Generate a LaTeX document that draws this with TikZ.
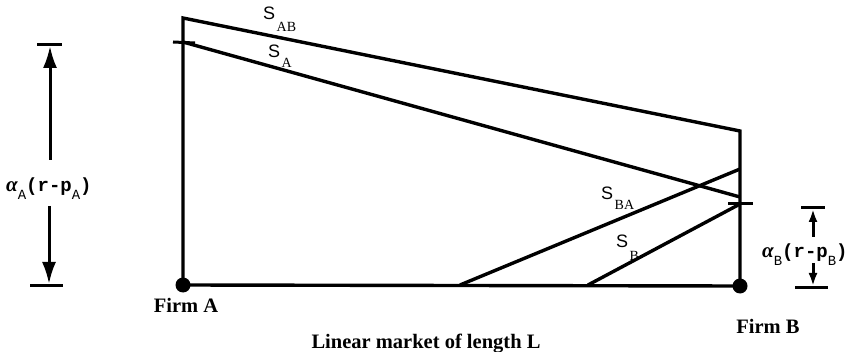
\documentclass[tikz,border=0pt]{standalone}
\usepackage{fontspec}
\setmainfont{Liberation Serif}
\newfontfamily\sansS{Liberation Sans}
\newfontfamily\monoF{Liberation Mono}
\usetikzlibrary{arrows.meta}
\newcommand{\Slab}[2]{{\sansS\fontsize{18}{18}\selectfont S}\hspace{1.5pt}\raisebox{-#2pt}{\fontsize{14}{14}\selectfont #1}}
\newcommand{\dimlab}[1]{{\fontsize{21}{21}\selectfont\bfseries\itshape α}\raisebox{-8pt}{\monoF\fontsize{14}{14}\selectfont #1}{\monoF\bfseries\fontsize{19}{19}\selectfont (r-p}\raisebox{-8pt}{\monoF\fontsize{14}{14}\selectfont #1}{\monoF\bfseries\fontsize{19}{19}\selectfont )}}
\tikzset{
  mainline/.style={line width=3.4pt, line join=miter, line cap=butt},
  dot/.style={circle, fill=black, inner sep=0pt, minimum size=15pt},
  barline/.style={line width=3pt},
  bigarrow/.style={line width=3pt, -{Latex[length=22pt,width=14pt]}},
  smallarrow/.style={line width=3pt, -{Latex[length=13pt,width=9pt]}},
  firmtext/.style={font=\bfseries\fontsize{20.5}{22}\selectfont, inner sep=0pt},
  slabel/.style={inner sep=0pt, anchor=base west},
  dlabel/.style={inner sep=0pt, anchor=base west}
}
\begin{document}
\begin{tikzpicture}[x=1pt, y=-1pt]
\useasboundingbox (0,0) rectangle (858,352);
% key points
\coordinate (TL) at (183,18);
\coordinate (AL) at (183,42);
\coordinate (TR) at (740,131);
\coordinate (AR) at (740,197);
\coordinate (BAR) at (740,169);
\coordinate (BR) at (740,204);
\coordinate (BA0) at (460,285);
\coordinate (B0) at (588,285);
\node[dot] (firmA) at (183,285) {};
\node[dot] (firmB) at (740,286) {};
% frame
\draw[mainline] (firmA.center) -- (TL) -- (TR) -- (firmB.center) -- cycle;
% lines
\draw[mainline] (AL) -- (AR);
\draw[mainline] (BA0) -- (BAR);
\draw[mainline] (B0) -- (BR);
% ticks
\coordinate (tkL1) at (173,42);
\coordinate (tkL2) at (195,43);
\draw[barline] (tkL1) -- (tkL2);
\coordinate (tkR1) at (728,204);
\coordinate (tkR2) at (753,204);
\draw[barline] (tkR1) -- (tkR2);
% line labels
\node[slabel] (sab) at (263,20) {\Slab{AB}{12}};
\node[slabel] (sa) at (268,58) {\Slab{A}{10}};
\node[slabel] (sba) at (601,200) {\Slab{BA}{10}};
\node[slabel] (sb) at (616,248) {\Slab{B}{13}};
% left dimension
\coordinate (lt1) at (37,45);
\coordinate (lt2) at (62,45);
\coordinate (lb1) at (30,285);
\coordinate (lb2) at (63,285);
\draw[barline] (lt1) -- (lt2);
\draw[barline] (lb1) -- (lb2);
\node[dlabel] (labA) at (6,192) {\dimlab{A}};
\coordinate (la0) at (50,160);
\coordinate (la1) at (50,46);
\coordinate (la2) at (49,206);
\coordinate (la3) at (49,284);
\draw[bigarrow] (la0) -- (la1);
\draw[bigarrow] (la2) -- (la3);
% right dimension
\coordinate (rt1) at (801,208);
\coordinate (rt2) at (825,208);
\coordinate (rb1) at (795,287);
\coordinate (rb2) at (828,287);
\draw[barline] (rt1) -- (rt2);
\draw[barline] (rb1) -- (rb2);
\node[dlabel] (labB) at (762,258) {\dimlab{B}};
\coordinate (ra0) at (813,237);
\coordinate (ra1) at (813,209);
\coordinate (ra2) at (813,263);
\coordinate (ra3) at (813,286);
\draw[smallarrow] (ra0) -- (ra1);
\draw[smallarrow] (ra2) -- (ra3);
% texts
\node[firmtext, anchor=base] (tA) at (186,312) {Firm A};
\node[firmtext, anchor=base] (tB) at (768,333) {Firm B};
\node[firmtext, anchor=base] (tL) at (426,348) {Linear market of length L};
\end{tikzpicture}
\end{document}
